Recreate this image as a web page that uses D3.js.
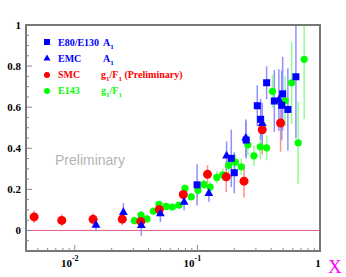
<!DOCTYPE html>
<html>
<head>
<meta charset="utf-8">
<script src="https://cdn.jsdelivr.net/npm/d3@7"></script>
<style>
  body { margin: 0; background: #fff; }
  text { font-family: "Liberation Serif", "Times New Roman", serif; font-weight: bold; }
</style>
</head>
<body>
<div id="chart"></div>
<script>
// E80/E130 A1 (blue squares): [x, value, error]
var e80Data = [
  [0.0994, 0.222, 0.10], [0.189, 0.351, 0.14], [0.200, 0.281, 0.10],
  [0.250, 0.440, 0.09], [0.308, 0.607, 0.10], [0.328, 0.541, 0.10],
  [0.367, 0.719, 0.08], [0.424, 0.630, 0.15], [0.487, 0.609, 0.17],
  [0.496, 0.665, 0.18], [0.547, 0.589, 0.20], [0.636, 0.748, 0.30]
];
// EMC A1 (blue triangles)
var emcData = [
  [0.0149, 0.026, 0.03], [0.0249, 0.088, 0.045], [0.0349, 0.024, 0.05],
  [0.0499, 0.081, 0.04], [0.0779, 0.138, 0.04], [0.124, 0.180, 0.04],
  [0.173, 0.363, 0.07], [0.248, 0.450, 0.09], [0.338, 0.521, 0.10],
  [0.462, 0.635, 0.15]
];
// SMC g1/F1 preliminary (red circles)
var smcData = [
  [0.00466, 0.066, 0.03], [0.00783, 0.049, 0.03], [0.0141, 0.054, 0.03],
  [0.0244, 0.055, 0.03], [0.0345, 0.044, 0.03], [0.0489, 0.102, 0.035],
  [0.0767, 0.175, 0.04], [0.121, 0.273, 0.045], [0.172, 0.261, 0.075],
  [0.240, 0.240, 0.08], [0.338, 0.490, 0.12], [0.477, 0.523, 0.14]
];
// E143 g1/F1 (green circles)
var e143Data = [
  [0.0306, 0.048, 0.02], [0.0347, 0.075, 0.02], [0.0388, 0.056, 0.015],
  [0.0437, 0.094, 0.015], [0.0486, 0.127, 0.015], [0.0557, 0.117, 0.015],
  [0.0624, 0.114, 0.015], [0.0708, 0.123, 0.015], [0.0792, 0.205, 0.02],
  [0.0892, 0.164, 0.02], [0.101, 0.196, 0.025], [0.113, 0.224, 0.025],
  [0.127, 0.211, 0.03], [0.144, 0.258, 0.03], [0.161, 0.271, 0.03],
  [0.180, 0.317, 0.035], [0.204, 0.333, 0.04], [0.228, 0.310, 0.04],
  [0.258, 0.417, 0.05], [0.289, 0.363, 0.05], [0.326, 0.407, 0.06],
  [0.367, 0.402, 0.06], [0.410, 0.677, 0.08], [0.520, 0.631, 0.12],
  [0.587, 0.719, 0.20], [0.664, 0.427, 0.20], [0.743, 0.833, 0.29]
];
var yTicks = [0, 0.2, 0.4, 0.6, 0.8, 1];
var xDecades = [0.01, 0.1, 1];

var width = 346, height = 277;
var margin = {top: 25, right: 320, bottom: 251, left: 26};

var svg = d3.select("#chart").append("svg")
    .attr("width", width)
    .attr("height", height);

var xScale = d3.scaleLog().domain([0.004, 1]).range([margin.left, margin.right]);
var yScale = d3.scaleLinear().domain([-0.1, 1]).range([margin.bottom, margin.top]);

svg.append("clipPath").attr("id", "clip")
  .append("rect")
    .attr("x", margin.left).attr("y", margin.top)
    .attr("width", margin.right - margin.left).attr("height", margin.bottom - margin.top);

// zero line
svg.append("line")
    .attr("x1", margin.left).attr("x2", margin.right)
    .attr("y1", yScale(0)).attr("y2", yScale(0))
    .attr("stroke", "#e0608a").attr("stroke-width", 1);

// "Preliminary" watermark
svg.append("text")
    .attr("x", 55).attr("y", 165)
    .style("font-family", "'Liberation Sans', Arial, sans-serif")
    .style("font-weight", "normal")
    .attr("font-size", 14)
    .attr("fill", "#b4b4b4")
    .text("Preliminary");

var plot = svg.append("g").attr("clip-path", "url(#clip)");

// error bars
function drawErrors(data, color) {
  plot.append("g").selectAll("line")
    .data(data)
    .enter().append("line")
      .attr("x1", function(d) { return xScale(d[0]); })
      .attr("x2", function(d) { return xScale(d[0]); })
      .attr("y1", function(d) { return yScale(d[1] - d[2]); })
      .attr("y2", function(d) { return yScale(d[1] + d[2]); })
      .attr("stroke", color)
      .attr("stroke-width", 1.5);
}
drawErrors(smcData, "#ff9090");
drawErrors(e143Data, "#90ff90");
drawErrors(emcData, "#9090ff");
drawErrors(e80Data, "#9090ff");

// markers
plot.append("g").selectAll("circle")
  .data(e143Data)
  .enter().append("circle")
    .attr("cx", function(d) { return xScale(d[0]); })
    .attr("cy", function(d) { return yScale(d[1]); })
    .attr("r", 3.6)
    .attr("fill", "#00ff00");

plot.append("g").selectAll("circle")
  .data(smcData)
  .enter().append("circle")
    .attr("cx", function(d) { return xScale(d[0]); })
    .attr("cy", function(d) { return yScale(d[1]); })
    .attr("r", 4.5)
    .attr("fill", "#ff0000");

var triangle = d3.symbol().type(d3.symbolTriangle).size(34);
plot.append("g").selectAll("path")
  .data(emcData)
  .enter().append("path")
    .attr("d", triangle)
    .attr("transform", function(d) { return "translate(" + xScale(d[0]) + "," + yScale(d[1]) + ")"; })
    .attr("fill", "#0000ff");

plot.append("g").selectAll("rect")
  .data(e80Data)
  .enter().append("rect")
    .attr("x", function(d) { return xScale(d[0]) - 3.5; })
    .attr("y", function(d) { return yScale(d[1]) - 3.5; })
    .attr("width", 7).attr("height", 7)
    .attr("fill", "#0000ff");

// frame
svg.append("rect")
    .attr("x", margin.left).attr("y", margin.top)
    .attr("width", margin.right - margin.left).attr("height", margin.bottom - margin.top)
    .attr("fill", "none")
    .attr("stroke", "#777")
    .attr("stroke-width", 2);

// y ticks (inside, left)
var yMinor = d3.range(-2, 20).map(function(i) { return i * 0.05; });
svg.append("g").selectAll("line")
  .data(d3.range(-1, 20))
  .enter().append("line")
    .attr("x1", margin.left)
    .attr("x2", function(i) { return margin.left + (i % 4 === 0 ? 6 : 3); })
    .attr("y1", function(i) { return yScale(i * 0.05); })
    .attr("y2", function(i) { return yScale(i * 0.05); })
    .attr("stroke", "#888").attr("stroke-width", 1);

svg.append("g").selectAll("text")
  .data(yTicks)
  .enter().append("text")
    .attr("x", 21)
    .attr("y", function(d) { return yScale(d) + 4; })
    .attr("text-anchor", "end")
    .attr("font-size", 11)
    .text(function(d) { return d === 0 ? "0" : d === 1 ? "1" : d3.format(".1f")(d); });

// x ticks (inside, bottom)
var xMinor = [];
[0.001, 0.01, 0.1].forEach(function(dec) {
  for (var k = 1; k <= 9; k++) {
    var v = dec * k;
    if (v >= 0.004 && v <= 1) xMinor.push({v: v, major: k === 1});
  }
});
svg.append("g").selectAll("line")
  .data(xMinor)
  .enter().append("line")
    .attr("x1", function(d) { return xScale(d.v); })
    .attr("x2", function(d) { return xScale(d.v); })
    .attr("y1", margin.bottom)
    .attr("y2", function(d) { return margin.bottom - (d.major ? 6 : 3); })
    .attr("stroke", "#888").attr("stroke-width", 1);

var xLabels = svg.append("g");
xDecades.slice(0, 2).forEach(function(d) {
  var t = xLabels.append("text")
      .attr("x", xScale(d) - 5)
      .attr("y", 267)
      .attr("text-anchor", "middle")
      .attr("font-size", 11);
  t.append("tspan").text("10");
  t.append("tspan").attr("dy", -6).attr("font-size", 8).text(d === 0.01 ? "-2" : "-1");
});
xLabels.append("text")
    .attr("x", xScale(1) - 2).attr("y", 267)
    .attr("text-anchor", "middle")
    .attr("font-size", 11)
    .text("1");

svg.append("text")
    .attr("x", 328).attr("y", 273)
    .attr("font-size", 19)
    .style("font-weight", "normal")
    .attr("fill", "#ff00ff")
    .text("X");

// legend
var legend = svg.append("g");
legend.append("rect").attr("x", 44).attr("y", 39).attr("width", 6).attr("height", 6).attr("fill", "#0000ff");
var t1 = legend.append("text").attr("x", 58).attr("y", 46).attr("font-size", 10).attr("fill", "#0000ff");
t1.append("tspan").text("E80/E130 ");
t1.append("tspan").attr("x", 103).text("A");
t1.append("tspan").attr("dy", 3).attr("font-size", 7).text("1");

legend.append("path").attr("d", d3.symbol().type(d3.symbolTriangle).size(22))
  .attr("transform", "translate(47,58.5)").attr("fill", "#0000ff");
var t2 = legend.append("text").attr("x", 58).attr("y", 62).attr("font-size", 10).attr("fill", "#0000ff");
t2.append("tspan").text("EMC");
t2.append("tspan").attr("x", 103).text("A");
t2.append("tspan").attr("dy", 3).attr("font-size", 7).text("1");

legend.append("circle").attr("cx", 47).attr("cy", 75).attr("r", 3).attr("fill", "#ff0000");
var t3 = legend.append("text").attr("x", 58).attr("y", 78).attr("font-size", 10).attr("fill", "#ff0000");
t3.append("tspan").text("SMC");
t3.append("tspan").attr("x", 101).text("g");
t3.append("tspan").attr("dy", 3).attr("font-size", 7).text("1");
t3.append("tspan").attr("dy", -3).text("/F");
t3.append("tspan").attr("dy", 3).attr("font-size", 7).text("1");
t3.append("tspan").attr("dy", -3).text(" (Preliminary)");

legend.append("circle").attr("cx", 47).attr("cy", 91).attr("r", 3).attr("fill", "#00ff00");
var t4 = legend.append("text").attr("x", 58).attr("y", 94).attr("font-size", 10).attr("fill", "#00ff00");
t4.append("tspan").text("E143");
t4.append("tspan").attr("x", 101).text("g");
t4.append("tspan").attr("dy", 3).attr("font-size", 7).text("1");
t4.append("tspan").attr("dy", -3).text("/F");
t4.append("tspan").attr("dy", 3).attr("font-size", 7).text("1");
</script>
</body>
</html>
